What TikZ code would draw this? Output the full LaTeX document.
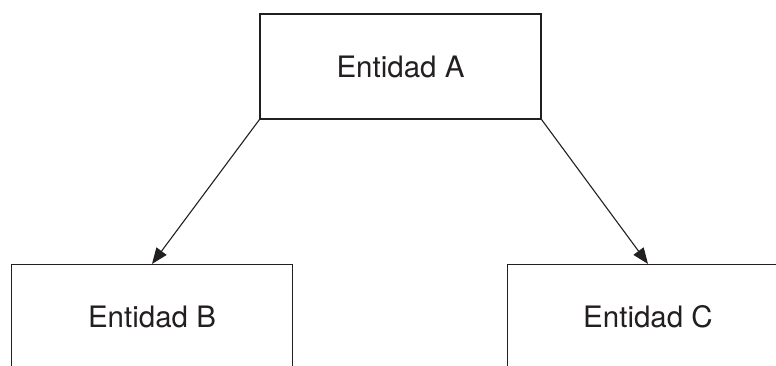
\documentclass[tikz,border=0pt]{standalone}
\usepackage{fontspec}
\setmainfont{TeX Gyre Heros}
\usetikzlibrary{arrows.meta}
\definecolor{ink}{HTML}{231F20}
\begin{document}
\begin{tikzpicture}[x=1pt,y=1pt,
  entity/.style={draw=ink, line width=1.1pt, minimum width=281pt, minimum height=105pt,
    inner sep=0pt, text=ink, font=\fontsize{29.5}{33}\selectfont},
  link/.style={draw=ink, line width=1.1pt, -{Triangle[length=16pt,width=12.5pt]}}]
\useasboundingbox (0,0) rectangle (776,-365);
\clip (0,0) rectangle (776,-365);
\node[entity] (A) at (400.5,-66.5) {Entidad A};
\node[entity] (B) at (152,-317) {Entidad B};
\node[entity] (C) at (648,-317) {Entidad C};
\draw[link] (A.south west) -- (B.north);
\draw[link] (A.south east) -- (C.north);
\end{tikzpicture}
\end{document}
